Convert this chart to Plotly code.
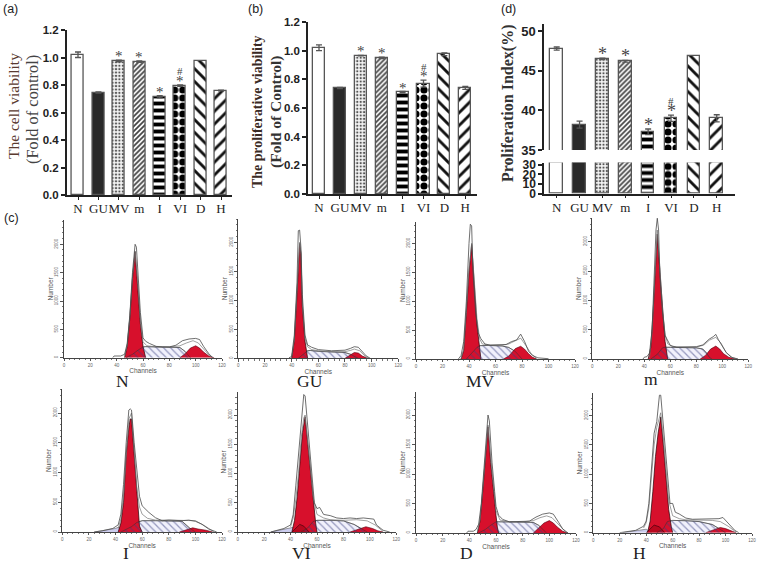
import plotly.graph_objects as go

# ---------- bar panel data ----------
CATEGORIES = ["N", "GU", "MV", "m", "I", "VI", "D", "H"]
POSITIONS = [0, 1, 2, 3, 4, 5, 6, 7]
A_VALUES = [1.02, 0.745, 0.975, 0.97, 0.715, 0.795, 0.975, 0.76]
A_ERRORS = [0.02, 0.004, 0.006, 0.005, 0.008, 0.005, 0.0, 0.002]
B_VALUES = [1.02, 0.74, 0.965, 0.95, 0.71, 0.77, 0.975, 0.74]
B_ERRORS = [0.02, 0.004, 0.002, 0.005, 0.005, 0.025, 0.01, 0.01]
D_VALUES = [47.8, 38.2, 46.5, 46.2, 37.3, 39.0, 46.9, 39.0]
D_ERRORS = [0.2, 0.45, 0.1, 0.1, 0.35, 0.4, 0.0, 0.45]
D_LOWER = [32, 32, 32, 32, 32, 32, 32, 32]
D_LOWER_ERR = [0, 0, 0, 0, 0, 0, 0, 0]
A_STARS = ["", "", "*", "*", "*", "*", "", ""]
A_HASH = ["", "", "", "", "", "#", "", ""]

# ---------- flow cytometry data: channel / count ----------
N_g1_x = [46, 48, 50, 52, 54, 56, 58, 60, 62]
N_g1_y = [0, 200, 700, 1400, 1870, 1300, 600, 200, 0]
N_s_x = [47, 52, 56, 60, 62, 70, 80, 88, 92, 96]
N_s_y = [0, 60, 130, 190, 195, 190, 190, 180, 110, 0]
N_g2_x = [88, 92, 96, 100, 103, 106, 110, 114]
N_g2_y = [0, 70, 170, 210, 170, 100, 30, 0]
N_o1_x = [37, 38, 43, 46, 48, 50, 52, 54, 55, 56, 58, 60, 62, 65, 70, 75, 80, 85, 90, 95, 100, 103, 106, 110, 113]
N_o1_y = [0, 30, 30, 60, 250, 750, 1500, 2000, 1950, 1500, 800, 350, 290, 250, 200, 190, 190, 220, 300, 330, 340, 320, 200, 70, 0]
N_o2_x = [46, 48, 50, 52, 54, 56, 58, 60, 63, 70, 80, 88, 93, 98, 102, 106, 110, 113]
N_o2_y = [20, 220, 720, 1420, 1880, 1350, 650, 280, 210, 190, 190, 210, 260, 300, 260, 150, 50, 0]

GU_g1_x = [40, 42, 44, 46, 47, 48, 50, 52]
GU_g1_y = [0, 300, 1100, 1980, 1800, 900, 300, 0]
GU_s_x = [45, 48, 52, 54, 60, 70, 80, 84, 88, 90]
GU_s_y = [0, 60, 130, 135, 120, 110, 100, 70, 20, 0]
GU_g2_x = [80, 84, 87, 90, 93, 97]
GU_g2_y = [0, 60, 100, 90, 40, 0]
GU_o1_x = [38, 40, 42, 44, 45, 46, 47, 48, 50, 51, 52, 55, 60, 70, 80, 84, 87, 90, 93, 96, 99]
GU_o1_y = [10, 30, 400, 1300, 2200, 2210, 1900, 1100, 400, 300, 230, 190, 150, 130, 140, 170, 200, 190, 120, 40, 0]
GU_o2_x = [40, 42, 44, 46, 47, 48, 50, 52, 55, 60, 70, 80, 84, 87, 91, 95, 98]
GU_o2_y = [10, 320, 1150, 2000, 1820, 950, 340, 200, 150, 130, 115, 115, 135, 160, 130, 40, 0]

MV_g1_x = [34, 36, 38, 40, 42, 44, 46, 48, 49]
MV_g1_y = [0, 150, 800, 1500, 1980, 1300, 600, 200, 0]
MV_s_x = [38, 42, 46, 48, 55, 65, 70, 75, 78, 80]
MV_s_y = [0, 100, 200, 230, 235, 225, 200, 130, 50, 0]
MV_g2_x = [66, 70, 75, 79, 82, 85, 88, 91]
MV_g2_y = [0, 50, 180, 220, 170, 90, 30, 0]
MV_o1_x = [32, 34, 36, 38, 40, 41, 42, 43, 45, 47, 49, 52, 56, 60, 68, 72, 76, 79, 82, 85, 88, 92, 100]
MV_o1_y = [0, 60, 300, 1000, 2000, 2330, 2300, 1500, 800, 450, 350, 260, 240, 240, 250, 300, 330, 430, 300, 130, 60, 20, 5]
MV_o2_x = [34, 36, 38, 40, 42, 44, 46, 48, 50, 55, 65, 70, 75, 79, 83, 87, 91]
MV_o2_y = [10, 170, 850, 1560, 2000, 1380, 700, 350, 260, 240, 240, 260, 320, 360, 230, 90, 10]

M_g1_x = [43, 45, 47, 49, 50, 52, 54, 56, 58]
M_g1_y = [0, 200, 900, 1700, 2130, 1500, 800, 300, 0]
M_s_x = [45, 50, 54, 56, 60, 70, 80, 85, 88, 90, 92]
M_s_y = [0, 80, 190, 200, 200, 195, 190, 170, 100, 30, 0]
M_g2_x = [83, 87, 91, 95, 98, 101, 105, 110]
M_g2_y = [0, 60, 170, 220, 170, 90, 30, 0]
M_o1_x = [39, 40, 42, 44, 46, 48, 49, 50, 51, 52, 54, 56, 58, 60, 65, 70, 80, 85, 90, 93, 95, 97, 100, 103, 107, 112]
M_o1_y = [0, 30, 40, 100, 500, 1500, 2200, 2400, 2200, 1400, 800, 400, 300, 230, 200, 200, 210, 240, 340, 380, 420, 330, 230, 110, 30, 0]
M_o2_x = [44, 46, 48, 50, 52, 54, 56, 58, 62, 70, 80, 86, 90, 95, 99, 103, 108, 112]
M_o2_y = [20, 450, 1350, 2200, 1550, 850, 420, 260, 210, 200, 200, 240, 320, 370, 270, 110, 20, 0]

I_g1_x = [42, 44, 46, 48, 50, 51, 52, 54, 56, 58, 60]
I_g1_y = [0, 150, 500, 1300, 1750, 1900, 1900, 1300, 600, 100, 0]
I_s_x = [44, 48, 52, 56, 58, 60, 70, 80, 90, 96, 100]
I_s_y = [0, 40, 90, 160, 180, 190, 190, 190, 180, 60, 0]
I_g2_x = [88, 93, 98, 102, 108, 113]
I_g2_y = [0, 40, 70, 50, 30, 0]
I_d_x = [24, 30, 36, 40, 42, 46]
I_d_y = [0, 20, 40, 60, 80, 0]
I_o1_x = [24, 30, 38, 42, 44, 46, 48, 50, 51, 52, 54, 56, 58, 60, 65, 70, 75, 80, 90, 95, 100, 105, 110, 116]
I_o1_y = [0, 20, 60, 120, 300, 800, 1500, 2050, 2070, 2050, 1500, 1000, 600, 440, 330, 240, 190, 200, 190, 200, 180, 130, 50, 0]
I_o2_x = [42, 44, 46, 48, 50, 52, 54, 56, 58, 60, 64, 70, 80, 90, 100, 108, 114]
I_o2_y = [60, 220, 600, 1350, 1900, 2000, 1400, 750, 420, 300, 230, 200, 200, 200, 190, 90, 0]

VI_g1_x = [41, 43, 45, 47, 49, 51, 53, 55, 57, 59, 60]
VI_g1_y = [0, 200, 600, 1200, 1700, 1970, 1500, 1000, 500, 150, 0]
VI_h_x = [41, 47, 50, 54]
VI_h_y = [0, 130, 100, 0]
VI_s_x = [48, 53, 57, 60, 70, 80, 88, 93, 98]
VI_s_y = [0, 70, 180, 200, 200, 190, 130, 60, 0]
VI_g2_x = [85, 90, 97, 102, 106, 110]
VI_g2_y = [0, 40, 90, 60, 20, 0]
VI_d_x = [25, 30, 35, 40, 42, 46]
VI_d_y = [0, 20, 40, 70, 80, 0]
VI_o1_x = [25, 28, 35, 40, 42, 44, 46, 48, 50, 51, 53, 55, 57, 58, 60, 62, 65, 70, 75, 80, 85, 90, 95, 100, 103, 105, 110, 115]
VI_o1_y = [0, 20, 60, 120, 300, 800, 1300, 1800, 2350, 2325, 1800, 1200, 700, 500, 400, 420, 300, 280, 240, 230, 240, 230, 240, 220, 220, 120, 30, 0]
VI_o2_x = [40, 42, 44, 46, 48, 50, 51, 53, 55, 57, 60, 65, 70, 80, 90, 98, 104, 110]
VI_o2_y = [90, 240, 560, 1000, 1600, 1950, 2000, 1600, 1100, 600, 300, 240, 210, 200, 210, 190, 120, 10]

D_g1_x = [46, 48, 50, 52, 54, 56, 58, 60, 61, 62]
D_g1_y = [0, 200, 700, 1300, 1800, 1200, 700, 300, 100, 0]
D_s_x = [47, 52, 56, 60, 62, 70, 80, 88, 92, 95, 98]
D_s_y = [0, 60, 130, 190, 190, 190, 190, 180, 130, 60, 0]
D_g2_x = [88, 92, 96, 100, 103, 106, 110, 114]
D_g2_y = [0, 80, 170, 210, 170, 100, 30, 0]
D_o1_x = [38, 39, 43, 45, 47, 49, 51, 53, 54, 55, 57, 59, 60, 62, 65, 70, 80, 85, 90, 95, 100, 103, 107, 110, 114]
D_o1_y = [0, 30, 30, 60, 150, 500, 1100, 1700, 2000, 1900, 1200, 700, 450, 300, 230, 190, 190, 200, 270, 320, 340, 320, 180, 70, 0]
D_o2_x = [46, 48, 50, 52, 54, 56, 58, 60, 63, 70, 80, 88, 93, 98, 102, 106, 110, 113]
D_o2_y = [20, 220, 730, 1320, 1830, 1280, 800, 380, 220, 190, 190, 210, 260, 290, 260, 160, 60, 0]

H_g1_x = [41, 43, 45, 47, 49, 51, 53, 55, 57, 59, 60]
H_g1_y = [0, 200, 700, 1300, 1700, 1980, 1500, 900, 400, 100, 0]
H_h_x = [40, 46, 50, 54]
H_h_y = [0, 130, 100, 0]
H_s_x = [48, 53, 56, 60, 70, 80, 90, 95, 100]
H_s_y = [0, 70, 190, 210, 205, 190, 140, 70, 0]
H_g2_x = [85, 90, 96, 100, 104, 108]
H_g2_y = [0, 40, 90, 70, 30, 0]
H_d_x = [22, 28, 34, 40, 44]
H_d_y = [0, 20, 40, 60, 0]
H_o1_x = [20, 26, 32, 38, 40, 42, 44, 46, 48, 50, 51, 53, 55, 57, 58, 60, 62, 65, 70, 75, 85, 95, 98, 100, 103, 107, 110]
H_o1_y = [0, 20, 40, 110, 200, 500, 1100, 1700, 1900, 2350, 2350, 1800, 1200, 800, 500, 500, 350, 320, 250, 230, 240, 240, 260, 210, 130, 40, 0]
H_o2_x = [38, 40, 42, 44, 46, 48, 50, 51, 53, 55, 57, 60, 65, 70, 80, 90, 96, 102, 108]
H_o2_y = [80, 170, 420, 950, 1500, 1800, 2000, 2050, 1620, 1050, 550, 290, 240, 220, 210, 210, 190, 110, 10]

# ---------- layout (pixels) ----------
W, H = 760, 564


def hd(a, b):
    return [a / W, b / W]


def vd(bottom, top):
    return [1 - bottom / H, 1 - top / H]


fig = go.Figure()
SERIF = "Liberation Serif"
SANS = "Liberation Sans"
BAR_LINE = "#565656"
INK = "#222222"

BAR_STYLES = [
    dict(color="white"),
    dict(color="#2a2a2a"),
    dict(color="#f4f4f4", pattern=dict(shape=".", fgcolor="#555555", bgcolor="#f4f4f4", size=3.4, solidity=0.35, fgopacity=1)),
    dict(color="white", pattern=dict(shape="/", fgcolor="#444444", bgcolor="white", size=3.5, solidity=0.5, fgopacity=1)),
    dict(color="white", pattern=dict(shape="-", fgcolor="#000000", bgcolor="white", size=7, solidity=0.55, fgopacity=1)),
    dict(color="white", pattern=dict(shape=".", fgcolor="#000000", bgcolor="white", size=8, solidity=0.62, fgopacity=1)),
    dict(color="white", pattern=dict(shape="\\", fgcolor="#111111", bgcolor="white", size=9, solidity=0.32, fgopacity=1)),
    dict(color="white", pattern=dict(shape="/", fgcolor="#111111", bgcolor="white", size=9, solidity=0.32, fgopacity=1)),
]


def add_bars(idx, values, errors, width):
    suffix = str(idx)
    for pos, val, err, style in zip(POSITIONS, values, errors, BAR_STYLES):
        marker = dict(color=style["color"], line=dict(color=BAR_LINE, width=1.3), opacity=1)
        if "pattern" in style:
            marker["pattern"] = style["pattern"]
        fig.add_trace(go.Bar(
            x=[pos], y=[val], width=width, xaxis="x" + suffix, yaxis="y" + suffix, marker=marker,
            error_y=dict(type="data", array=[err], color=BAR_LINE, thickness=1.3, width=3, visible=err > 0),
            showlegend=False, hoverinfo="skip",
        ))


def bar_axes(idx, x_px, centre0, spacing, y_bottom, y_top, yrange, tickvals, ticktext=None,
             show_x=True):
    left = (x_px[0] - centre0) / spacing
    right = (x_px[1] - centre0) / spacing
    fig.layout["xaxis" + str(idx)] = dict(
        domain=hd(*x_px), range=[left, right], anchor="y" + str(idx),
        tickmode="array", tickvals=POSITIONS if show_x else [], ticktext=CATEGORIES if show_x else [],
        tickfont=dict(family=SERIF, size=13, color=INK), ticks="outside" if show_x else "",
        tickangle=0, ticklen=3, tickwidth=1.3, tickcolor=INK, ticklabelstandoff=-2, showgrid=False, zeroline=False,
        showline=show_x, linecolor=INK, linewidth=1.5, fixedrange=True,
    )
    fig.layout["yaxis" + str(idx)] = dict(
        domain=vd(y_bottom, y_top), range=yrange, anchor="x" + str(idx),
        tickmode="array", tickvals=tickvals, ticktext=ticktext if ticktext else None,
        tickfont=dict(family=SANS, size=11.5, color=INK, weight=700), ticks="outside",
        ticklen=4, tickwidth=1.5, tickcolor=INK, showgrid=False, zeroline=False,
        showline=True, linecolor=INK, linewidth=1.5, fixedrange=True,
    )


def stars(idx, values, errors, marks, font_size=15, lift=-6):
    for p, v, e, m in zip(POSITIONS, values, errors, marks):
        if m:
            fig.add_annotation(x=p, y=v + e, xref="x" + str(idx), yref="y" + str(idx), text=m,
                               showarrow=False, yanchor="bottom", yshift=lift,
                               font=dict(family=SERIF, size=font_size, color="#444444"))


# Panel a
add_bars(1, A_VALUES, A_ERRORS, 0.59)
bar_axes(1, (66.7, 232), 78, 20.43, 195, 30, [0, 1.2], [0, 0.2, 0.4, 0.6, 0.8, 1.0, 1.2],
         ["0.0", "0.2", "0.4", "0.6", "0.8", "1.0", "1.2"])
stars(1, A_VALUES, A_ERRORS, A_STARS)
stars(1, A_VALUES, A_ERRORS, A_HASH, font_size=11, lift=6)

# Panel b
add_bars(2, B_VALUES, B_ERRORS, 0.575)
bar_axes(2, (308, 477), 319, 20.9, 194, 22, [0, 1.2], [0, 0.2, 0.4, 0.6, 0.8, 1.0, 1.2],
         ["0.0", "0.2", "0.4", "0.6", "0.8", "1.0", "1.2"])
stars(2, B_VALUES, B_ERRORS, A_STARS)
stars(2, B_VALUES, B_ERRORS, A_HASH, font_size=11, lift=5)

# Panel d (broken axis)
add_bars(3, D_VALUES, D_ERRORS, 0.555)
bar_axes(3, (544, 735), 556.7, 22.86, 150, 24, [35, 50.9], [35, 40, 45, 50], show_x=False)
add_bars(4, D_LOWER, D_LOWER_ERR, 0.555)
bar_axes(4, (544, 735), 556.7, 22.86, 193.5, 162.5, [0, 32.4], [0, 10, 20, 30])
fig.layout.yaxis3.tickfont.size = 13
fig.layout.yaxis4.tickfont.size = 12
stars(3, D_VALUES, D_ERRORS, A_STARS, font_size=18, lift=-8)
stars(3, D_VALUES, D_ERRORS, A_HASH, font_size=11, lift=6)

# Flow panels
RED = "#d7102c"
PANELS = [
    ("N", (64, 222), (357.7, 244.3, 220), N_g1_x, N_g1_y, N_s_x, N_s_y, N_g2_x, N_g2_y, N_o1_x, N_o1_y, N_o2_x, N_o2_y, None, None, None, None),
    ("GU", (238.3, 398.3), (358.3, 242.3, 219), GU_g1_x, GU_g1_y, GU_s_x, GU_s_y, GU_g2_x, GU_g2_y, GU_o1_x, GU_o1_y, GU_o2_x, GU_o2_y, None, None, None, None),
    ("MV", (416, 575), (359, 243.3, 222), MV_g1_x, MV_g1_y, MV_s_x, MV_s_y, MV_g2_x, MV_g2_y, MV_o1_x, MV_o1_y, MV_o2_x, MV_o2_y, None, None, None, None),
    ("m", (592.3, 748.3), (359, 241.7, 218), M_g1_x, M_g1_y, M_s_x, M_s_y, M_g2_x, M_g2_y, M_o1_x, M_o1_y, M_o2_x, M_o2_y, None, None, None, None),
    ("I", (62.3, 222), (532, 413, 389), I_g1_x, I_g1_y, I_s_x, I_s_y, I_g2_x, I_g2_y, I_o1_x, I_o1_y, I_o2_x, I_o2_y, None, None, I_d_x, I_d_y),
    ("VI", (237.7, 396.3), (532, 415, 392), VI_g1_x, VI_g1_y, VI_s_x, VI_s_y, VI_g2_x, VI_g2_y, VI_o1_x, VI_o1_y, VI_o2_x, VI_o2_y, VI_h_x, VI_h_y, VI_d_x, VI_d_y),
    ("D", (416, 576), (533, 415, 392), D_g1_x, D_g1_y, D_s_x, D_s_y, D_g2_x, D_g2_y, D_o1_x, D_o1_y, D_o2_x, D_o2_y, None, None, None, None),
    ("H", (593.3, 752), (532.7, 415.7, 393), H_g1_x, H_g1_y, H_s_x, H_s_y, H_g2_x, H_g2_y, H_o1_x, H_o1_y, H_o2_x, H_o2_y, H_h_x, H_h_y, H_d_x, H_d_y),
]
PANEL_LABEL_POS = [(122, 381), (310, 381), (480, 381), (651, 379), (126, 553), (301, 553), (466, 553), (639, 553)]

for k, p in enumerate(PANELS):
    idx = 5 + k
    name, xp, (y0, y2000, ytop), g1x, g1y, sx, sy, g2x, g2y, o1x, o1y, o2x, o2y, hx, hy, dx, dy = p
    ax = dict(xaxis="x" + str(idx), yaxis="y" + str(idx), showlegend=False, hoverinfo="skip", mode="lines")
    if dx:
        fig.add_trace(go.Scatter(x=dx, y=dy, fill="tozeroy", fillcolor="rgba(170,170,225,0.6)",
                                 line=dict(color="#444", width=0.5), **ax))
    fig.add_trace(go.Scatter(x=sx, y=sy, fill="tozeroy", fillcolor="rgba(215,215,245,0.35)",
                             line=dict(color="#333", width=0.5), **ax))
    fig.add_trace(go.Scatter(x=g2x, y=g2y, fill="tozeroy", fillcolor=RED,
                             line=dict(color="#550010", width=0.6), **ax))
    fig.add_trace(go.Scatter(x=g1x, y=g1y, fill="tozeroy", fillcolor=RED,
                             line=dict(color="#220006", width=0.7), **ax))
    if hx:
        fig.add_trace(go.Scatter(x=hx, y=hy, fill="tozeroy", fillcolor="rgba(160,0,20,0.55)",
                                 line=dict(color="#330008", width=0.6), **ax))
    fig.add_trace(go.Scatter(x=sx, y=sy, fill="tozeroy", fillcolor="rgba(0,0,0,0)",
                             fillpattern=dict(shape="\\", fgcolor="#3a3f80", bgcolor="rgba(0,0,0,0)", size=5, solidity=0.25),
                             line=dict(color="#333", width=0.5), **ax))
    fig.add_trace(go.Scatter(x=o2x, y=o2y, line=dict(color="#777777", width=0.7), **ax))
    fig.add_trace(go.Scatter(x=o1x, y=o1y, line=dict(color="#4a4a4a", width=0.8), **ax))
    yhi = 2000 * (y0 - ytop) / (y0 - y2000)
    fig.layout["xaxis" + str(idx)] = dict(
        domain=hd(*xp), range=[0, 120], anchor="y" + str(idx),
        tickvals=[0, 20, 40, 60, 80, 100, 120], tickfont=dict(family=SANS, size=4.5, color="#666666"),
        ticks="outside", ticklen=2.5, tickwidth=0.7, tickcolor="#555555",
        minor=dict(dtick=4, ticks="outside", ticklen=1.5, tickcolor="#777777", tickwidth=0.5),
        showgrid=False, zeroline=False, showline=True, linecolor="#444444", linewidth=0.8, fixedrange=True,
        title=dict(text="Channels", font=dict(family=SANS, size=6.5, color="#555555"), standoff=0),
    )
    fig.layout["yaxis" + str(idx)] = dict(
        domain=vd(y0, ytop), range=[0, yhi], anchor="x" + str(idx),
        tickvals=[0, 500, 1000, 1500, 2000], tickangle=-90,
        tickfont=dict(family=SANS, size=4.5, color="#666666"),
        ticks="outside", ticklen=3, tickwidth=0.7, tickcolor="#555555",
        minor=dict(dtick=100, ticks="outside", ticklen=1.5, tickcolor="#777777", tickwidth=0.5),
        showgrid=False, zeroline=False, showline=True, linecolor="#444444", linewidth=0.8, fixedrange=True,
        title=dict(text="Number", font=dict(family=SANS, size=6.5, color="#555555"), standoff=0),
    )
    lx, ly = PANEL_LABEL_POS[k]
    fig.add_annotation(x=lx / W, y=1 - ly / H, xref="paper", yref="paper", text=name, showarrow=False,
                       xanchor="center", yanchor="middle",
                       font=dict(family=SERIF, size=17.5, color="#222222"))

# Free text
TEXTS = [
    ("(a)", 10, 9, SANS, 12.5, "#222222", 0, False),
    ("(b)", 255, 9, SANS, 12.5, "#222222", 0, False),
    ("(d)", 508, 9, SANS, 12.5, "#222222", 0, False),
    ("(c)", 11, 218, SANS, 12.5, "#222222", 0, False),
    ("The cell viability", 13, 106, SERIF, 15.5, "#5a3a30", -90, False),
    ("(Fold of control)", 32, 110, SERIF, 16.4, "#444444", -90, False),
    ("The proliferative viability", 257, 112, SERIF, 13.9, "#3a2a24", -90, True),
    ("(Fold of Control)", 276, 112, SERIF, 15.5, "#333333", -90, True),
    ("Proliferation Index(%)", 508, 104, SERIF, 16, "#333333", -90, True),
]
for txt, x, y, fam, size, col, ang, bold in TEXTS:
    fig.add_annotation(x=x / W, y=1 - y / H, xref="paper", yref="paper",
                       text=f"<b>{txt}</b>" if bold else txt, showarrow=False, textangle=ang,
                       xanchor="center", yanchor="middle", font=dict(family=fam, size=size, color=col))

fig.update_layout(width=W, height=H, margin=dict(l=0, r=0, t=0, b=0, autoexpand=False), paper_bgcolor="white",
                  plot_bgcolor="rgba(0,0,0,0)", showlegend=False, barmode="overlay", bargap=0)
fig.write_html("out.html", config=dict(displayModeBar=False),
               post_script="document.body.style.margin='0';document.documentElement.style.overflow='hidden';")
